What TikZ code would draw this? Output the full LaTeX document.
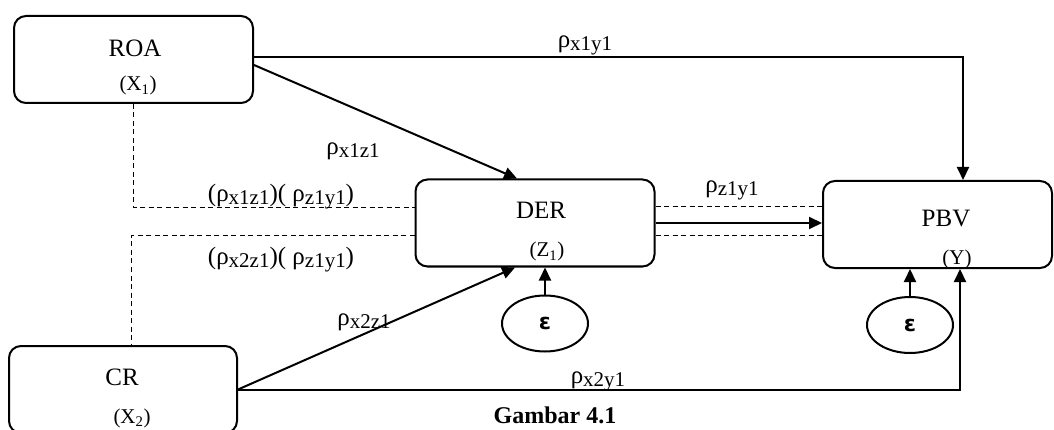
\documentclass[tikz,border=0pt]{standalone}
\usepackage{fontspec}
\setmainfont{Liberation Serif}
\newfontfamily\epsfont{DejaVu Sans}
\usetikzlibrary{arrows.meta,shapes.geometric}

\newcommand{\rhosub}[1]{{\fontsize{25}{25}\selectfont ρ}\raisebox{-3pt}{\fontsize{21}{21}\selectfont #1}}

\begin{document}
\begin{tikzpicture}[x=1pt,y=-1pt,
                    box/.style = {draw, rounded corners=12pt, line width=2pt,
                                  minimum width=239pt, minimum height=87pt},
                    err/.style = {draw, ellipse, line width=2pt, minimum width=86pt,
                                  minimum height=56pt, font=\epsfont\bfseries\fontsize{22}{22}\selectfont},
                    nametext/.style = {anchor=base, inner sep=0pt, font=\fontsize{25}{25}\selectfont},
                    vartext/.style = {anchor=base, inner sep=0pt, font=\fontsize{21}{21}\selectfont},
                    coef/.style = {anchor=base, inner sep=0pt, font=\fontsize{25}{25}\selectfont},
                    arr/.style = {line width=2pt, -{Triangle[length=13pt,width=12pt]}},
                    corr/.style = {line width=1pt, dash pattern=on 5pt off 3.5pt}]

  \useasboundingbox (0,0) rectangle (1054,430);

  % variables
  \node[box] (roa) at (133.5,59.5) {};
  \node[box] (der) at (535,223) {};
  \node[box, minimum width=229pt] (pbv) at (937.5,224.5) {};
  \node[box, minimum width=228pt] (cr) at (123,389.5) {};

  \node[nametext] (roaname) at (135,56.7) {ROA};
  \node[vartext] (roavar) at (138,91) {(X\textsubscript{1})};
  \node[nametext] (dername) at (541,219) {DER};
  \node[vartext] (dervar) at (547,257) {(Z\textsubscript{1})};
  \node[nametext] (pbvname) at (946,227) {PBV};
  \node[vartext] (pbvvar) at (957,265) {(Y)};
  \node[nametext] (crname) at (122,385) {CR};
  \node[vartext] (crvar) at (132,423) {(X\textsubscript{2})};

  % residuals
  \node[err] (e1) at (545,323.5) {ε};
  \node[err] (e2) at (910,325) {ε};

  % paths
  \draw[arr] ([yshift=2.5pt]roa.east) -| ([xshift=25.5pt]pbv.north);
  \draw[arr] ([yshift=-5.5pt]roa.east) -- ([xshift=-18pt]der.north);
  \draw[corr] (roa.south) |- ([yshift=15pt]der.west);
  \draw[corr] ([yshift=-13pt]der.west) -| ([xshift=8pt]cr.north);
  \draw[arr] (cr.east) -- ([xshift=-20pt]der.south);
  \draw[arr] (cr.east) -| ([xshift=22.5pt]pbv.south);
  \draw[arr] (der.east) -- (der.east -| pbv.west);
  \draw[corr] ([yshift=16pt]der.east) -- ([yshift=16pt]der.east -| pbv.west);
  \draw[corr] ([yshift=-13pt]der.east) -- ([yshift=-13pt]der.east -| pbv.west);
  \draw[arr] (e1) -- (e1 |- der.south);
  \draw[arr] (e2) -- (e2 |- pbv.south);

  % coefficients
  \node[coef] (kx1y1) at (585,48) {\rhosub{x1y1}};
  \node[coef] (kx1z1) at (353,155) {\rhosub{x1z1}};
  \node[coef] (kind1) at (281,202) {(\rhosub{x1z1})( \rhosub{z1y1})};
  \node[coef] (kind2) at (281,265) {(\rhosub{x2z1})( \rhosub{z1y1})};
  \node[coef] (kz1y1) at (732,193) {\rhosub{z1y1}};
  \node[coef] (kx2z1) at (364,325) {\rhosub{x2z1}};
  \node[coef] (kx2y1) at (598,383) {\rhosub{x2y1}};

  \node[anchor=base, inner sep=0pt, font=\bfseries\fontsize{24}{24}\selectfont] (caption) at (555,423) {Gambar 4.1};
\end{tikzpicture}
\end{document}
